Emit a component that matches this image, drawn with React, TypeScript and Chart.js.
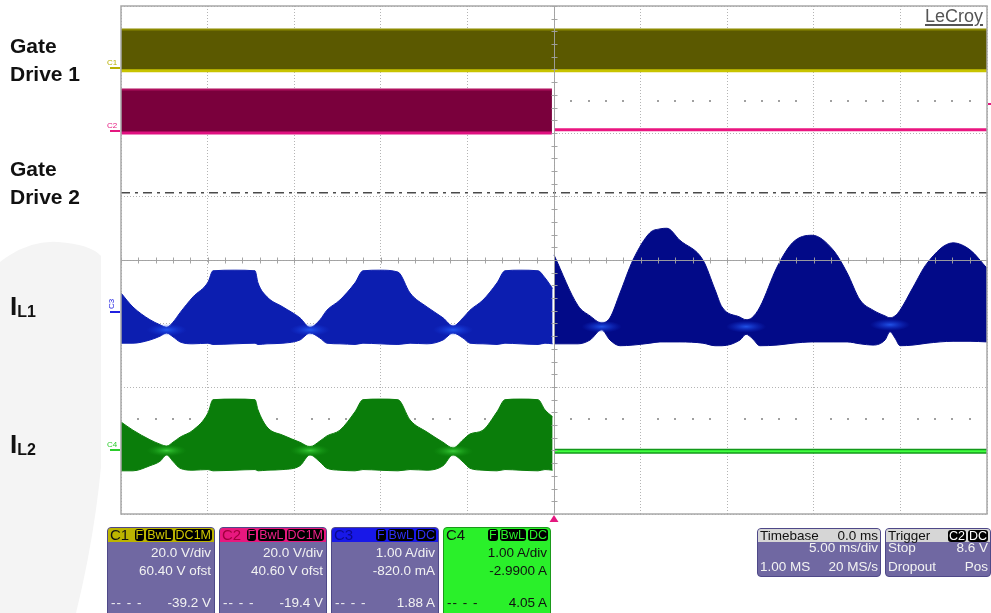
import React, { useEffect, useRef } from "react";
import { Chart, registerables } from "chart.js";
Chart.register(...registerables);

// ---------- axes (time in ms, vertical in divisions) ----------
const T_MIN = -25;
const T_MAX = 25;
const T_STEP = 5;
const V_MIN = -4;
const V_MAX = 4;

// ---------- C1 gate drive 1 (div) ----------
const C1_T = [-25, 25];
const C1_UP = [3.63, 3.63];
const C1_LO = [2.98, 2.98];

// ---------- C2 gate drive 2 (div) ----------
const C2_T = [-25, -0.12];
const C2_UP = [2.685, 2.685];
const C2_LO = [2.0, 2.0];
const C2_POST_T = [0, 25];
const C2_POST = [2.05, 2.05];

// ---------- before trigger (ms) ----------
const PRE_T = [
  -25.0, -24.31, -23.33, -22.75, -22.36, -22.0, -21.59, -20.84, -19.98, -19.69, -18.42, -17.26,
  -17.09, -16.57, -15.65, -14.67, -14.09, -13.51, -13.11, -12.36, -11.49, -11.03, -10.05, -9.01,
  -8.31, -7.33, -6.41, -5.83, -5.25, -4.85, -4.1, -3.29, -2.83, -1.96, -0.92, -0.52, -0.08,
];
const C3_PRE_UP = [
  -0.52, -0.74, -0.94, -1.02, -1.06, -0.98, -0.83, -0.58, -0.35, -0.17, -0.16, -0.17,
  -0.36, -0.58, -0.74, -0.91, -1.06, -0.94, -0.79, -0.63, -0.36, -0.17, -0.16, -0.19,
  -0.52, -0.74, -0.91, -1.04, -0.91, -0.79, -0.63, -0.36, -0.17, -0.16, -0.17, -0.28, -0.45,
];
const C3_PRE_LO = [
  -1.31, -1.31, -1.26, -1.2, -1.15, -1.21, -1.29, -1.32, -1.31, -1.33, -1.32, -1.31,
  -1.33, -1.32, -1.31, -1.26, -1.15, -1.23, -1.31, -1.32, -1.33, -1.31, -1.32, -1.33,
  -1.31, -1.32, -1.26, -1.15, -1.23, -1.31, -1.32, -1.33, -1.31, -1.32, -1.33, -1.31, -1.32,
];
const C4_PRE_UP = [
  -2.55, -2.68, -2.83, -2.9, -2.93, -2.87, -2.79, -2.68, -2.41, -2.2, -2.19, -2.2,
  -2.36, -2.63, -2.76, -2.87, -2.94, -2.85, -2.77, -2.68, -2.39, -2.2, -2.19, -2.2,
  -2.52, -2.71, -2.87, -2.96, -2.83, -2.74, -2.68, -2.39, -2.2, -2.19, -2.2, -2.36, -2.47,
];
const C4_PRE_LO = [
  -3.32, -3.32, -3.24, -3.17, -3.07, -3.17, -3.28, -3.31, -3.3, -3.32, -3.31, -3.3,
  -3.32, -3.31, -3.3, -3.24, -3.07, -3.18, -3.28, -3.31, -3.32, -3.3, -3.31, -3.32,
  -3.3, -3.31, -3.24, -3.07, -3.18, -3.28, -3.31, -3.32, -3.3, -3.31, -3.32, -3.3, -3.31,
];

// ---------- after trigger (ms) ----------
const POST_T = [
  0.0, 1.39, 2.08, 2.75, 3.23, 3.81, 4.56, 5.54, 6.12, 6.52, 7.27, 8.6, 9.3, 9.7, 10.74, 11.09,
  11.43, 11.89, 12.88, 13.8, 14.9, 16.11, 16.92, 17.67, 18.42, 19.11, 19.4, 19.69, 19.98, 20.73,
  21.54, 23.04, 24.02, 25.0,
];
const C3_POST_UP = [
  0.08, -0.72, -0.88, -0.99, -0.91, -0.52, 0.0, 0.43, 0.49, 0.5, 0.31, 0.0, -0.47, -0.74, -0.9,
  -0.94, -0.91, -0.74, -0.11, 0.28, 0.39, 0.16, -0.2, -0.63, -0.79, -0.88, -0.91, -0.88, -0.79,
  -0.43, -0.05, 0.27, 0.16, -0.13,
];
const C3_POST_LO = [
  -1.32, -1.32, -1.26, -1.1, -1.26, -1.35, -1.34, -1.31, -1.29, -1.29, -1.29, -1.31, -1.35, -1.35,
  -1.26, -1.17, -1.23, -1.35, -1.34, -1.31, -1.29, -1.29, -1.29, -1.32, -1.34, -1.26, -1.13, -1.23,
  -1.35, -1.34, -1.31, -1.28, -1.28, -1.29,
];
const C4_POST_T = [0, 25];
const C4_POST = [-3.01, -3.01];

// pinch points (bright spots)
const C3_PINCH_T = [-22.36, -14.09, -5.83, 2.75, 11.09, 19.4];
const C3_PINCH_V = [-1.1, -1.1, -1.1, -1.05, -1.05, -1.02];
const C4_PINCH_T = [-22.36, -14.09, -5.83];
const C4_PINCH_V = [-3.0, -3.0, -3.01];

// reference (dash-dot) level and half-division dot rows
const REF_T = [-25, 25];
const REF_V = [1.06, 1.06];
const HALF_ROWS = [2.5, -2.5];

// ---------- channel readouts ----------
const CH_NAMES = ["C1", "C2", "C3", "C4"];
const CH_SCALE = ["20.0 V/div", "20.0 V/div", "1.00 A/div", "1.00 A/div"];
const CH_OFFSET = ["60.40 V ofst", "40.60 V ofst", "-820.0 mA", "-2.9900 A"];
const CH_MEAS = ["-39.2 V", "-19.4 V", "1.88 A", "4.05 A"];
const CH_COUPLING = ["DC1M", "DC1M", "DC", "DC"];
const CH_MARKER_DIV = [60.4 / 20, 40.6 / 20, -0.82, -2.99];
const TRIG_LEVEL_DIV = (8.6 + 40.6) / 20;

const FONT = "'Liberation Sans', Arial, sans-serif";

const CH_COLORS = ["#b8b000", "#e4187f", "#2020e0", "#2ccc2c"];
const HEAD_BG = ["#bcb400", "#e8187f", "#1818e8", "transparent"];
const HEAD_TXT = ["#111", "#a0003c", "#0a0a90", "#111"];
const BADGE_TXT = ["#d0c800", "#f0208a", "#3030f8", "#2af22a"];

const pts = (ts: number[], vs: number[]) => ts.map((t, i) => ({ x: t, y: vs[i] }));

const line = (data: any, color: string, width: number, extra: any = {}) => ({
  data,
  borderColor: color,
  borderWidth: width,
  pointRadius: 0,
  tension: 0,
  fill: false,
  ...extra,
});

const smooth = { cubicInterpolationMode: "monotone" };

const scopePlugin = {
  id: "scope",
  beforeDatasetsDraw(chart: any) {
    const { ctx, scales } = chart;
    const x = scales.x;
    const y = scales.y;
    ctx.save();
    ctx.fillStyle = "#a0a0a0";
    HALF_ROWS.forEach((v) => {
      const py = Math.round(y.getPixelForValue(v));
      for (let t = T_MIN + 1; t < T_MAX; t += 1) {
        if (t % T_STEP === 0) continue;
        const px = Math.round(x.getPixelForValue(t));
        ctx.fillRect(px - 1, py - 1, 2, 2);
      }
    });
    ctx.restore();
  },
  afterDatasetsDraw(chart: any) {
    const { ctx, chartArea: a, scales } = chart;
    const x = scales.x;
    const y = scales.y;
    ctx.save();
    // pinch glows
    const glow = (ts: number[], vs: number[], inner: string, outer: string) => {
      ts.forEach((t, i) => {
        const px = x.getPixelForValue(t);
        const py = y.getPixelForValue(vs[i]);
        ctx.save();
        ctx.translate(px, py);
        ctx.scale(1, 0.3);
        const g = ctx.createRadialGradient(0, 0, 0, 0, 0, 20);
        g.addColorStop(0, inner);
        g.addColorStop(1, outer);
        ctx.fillStyle = g;
        ctx.beginPath();
        ctx.arc(0, 0, 20, 0, Math.PI * 2);
        ctx.fill();
        ctx.restore();
      });
    };
    glow(C3_PINCH_T, C3_PINCH_V, "rgba(40,100,255,0.8)", "rgba(20,60,230,0)");
    glow(C4_PINCH_T, C4_PINCH_V, "rgba(70,225,70,0.8)", "rgba(20,160,20,0)");

    // center cross with ticks
    const x0 = Math.round(x.getPixelForValue(0)) + 0.5;
    const y0 = Math.round(y.getPixelForValue(0)) + 0.5;
    ctx.strokeStyle = "rgba(160,160,160,0.95)";
    ctx.lineWidth = 1;
    ctx.beginPath();
    ctx.moveTo(x0, a.top);
    ctx.lineTo(x0, a.bottom);
    ctx.moveTo(a.left, y0);
    ctx.lineTo(a.right, y0);
    for (let v = V_MIN; v <= V_MAX + 1e-9; v += 0.2) {
      const py = Math.round(y.getPixelForValue(v)) + 0.5;
      ctx.moveTo(x0 - 3, py);
      ctx.lineTo(x0 + 3, py);
    }
    for (let t = T_MIN; t <= T_MAX; t += 1) {
      const px = Math.round(x.getPixelForValue(t)) + 0.5;
      ctx.moveTo(px, y0 - 3);
      ctx.lineTo(px, y0 + 3);
    }
    ctx.stroke();

    // frame
    ctx.strokeStyle = "#a8a8a8";
    ctx.lineWidth = 1.5;
    ctx.strokeRect(a.left, a.top, a.right - a.left, a.bottom - a.top);

    // channel ground markers
    CH_MARKER_DIV.forEach((v, i) => {
      const py = Math.round(y.getPixelForValue(v));
      ctx.fillStyle = CH_COLORS[i];
      ctx.fillRect(a.left - 11, py - 1, 10, 2);
      ctx.font = `8px ${FONT}`;
      if (i === 2) {
        ctx.save();
        ctx.translate(a.left - 7, py - 3);
        ctx.rotate(-Math.PI / 2);
        ctx.fillText(CH_NAMES[i], 0, 0);
        ctx.restore();
      } else {
        ctx.fillText(CH_NAMES[i], a.left - 14, py - 3);
      }
    });

    // trigger level marker (right)
    const ty = Math.round(y.getPixelForValue(TRIG_LEVEL_DIV));
    ctx.fillStyle = "#e4187f";
    ctx.fillRect(a.right + 1, ty - 1, 5, 2);

    // trigger position marker (bottom)
    const tx = x.getPixelForValue(0);
    ctx.beginPath();
    ctx.moveTo(tx, a.bottom + 1);
    ctx.lineTo(tx - 4.5, a.bottom + 8);
    ctx.lineTo(tx + 4.5, a.bottom + 8);
    ctx.closePath();
    ctx.fill();
    ctx.restore();
  },
};

function ScopeChart() {
  const ref = useRef<HTMLCanvasElement | null>(null);
  useEffect(() => {
    if (!ref.current) return;
    const datasets: any[] = [
      line(pts(C2_POST_T, C2_POST), "#ea1680", 3),
      line(pts(C4_POST_T, C4_POST), "#40ff40", 2),
      line(pts(C4_POST_T, C4_POST), "#12991a", 5),
      // C1 band
      line(pts(C1_T, C1_UP), "#8c8a00", 2),
      line(pts(C1_T, C1_LO), "#c8c400", 3, { fill: "-1", backgroundColor: "#5b5900" }),
      // C2 band
      line(pts(C2_T, C2_UP), "#b0105e", 2),
      line(pts(C2_T, C2_LO), "#e01080", 3, { fill: "-1", backgroundColor: "#7a003c" }),
      // C3 before trigger
      line(pts(PRE_T, C3_PRE_UP), "#0c1eb0", 1, smooth),
      line(pts(PRE_T, C3_PRE_LO), "#0c1eb0", 1, { ...smooth, fill: "-1", backgroundColor: "#0c1eb0" }),
      // C3 after trigger
      line(pts(POST_T, C3_POST_UP), "#020a88", 1, smooth),
      line(pts(POST_T, C3_POST_LO), "#020a88", 1, { ...smooth, fill: "-1", backgroundColor: "#020a88" }),
      // C4 before trigger
      line(pts(PRE_T, C4_PRE_UP), "#0a7d0a", 1, smooth),
      line(pts(PRE_T, C4_PRE_LO), "#0a7d0a", 1, { ...smooth, fill: "-1", backgroundColor: "#0a7d0a" }),
      // reference level
      line(pts(REF_T, REF_V), "#4a4a4a", 1.5, { borderDash: [9, 5, 3, 5] }),
    ];
    const chart = new Chart(ref.current, {
      type: "line",
      data: { datasets },
      options: {
        responsive: false,
        animation: false,
        events: [],
        parsing: false as any,
        layout: { padding: { left: 121, top: 6, right: 4, bottom: 99 } },
        plugins: { legend: { display: false }, tooltip: { enabled: false } },
        scales: {
          x: {
            type: "linear",
            min: T_MIN,
            max: T_MAX,
            ticks: { stepSize: T_STEP, display: false },
            grid: { color: "#b4b4b4", drawTicks: false, lineWidth: 1 },
            border: { display: false, dash: [1, 2] },
          },
          y: {
            type: "linear",
            min: V_MIN,
            max: V_MAX,
            ticks: { stepSize: 1, display: false },
            grid: { color: "#b4b4b4", drawTicks: false, lineWidth: 1 },
            border: { display: false, dash: [1, 2] },
          },
        },
      },
      plugins: [scopePlugin],
    });
    return () => chart.destroy();
  }, []);
  return (
    <canvas
      ref={ref}
      width={991}
      height={613}
      style={{ position: "absolute", left: 0, top: 0, width: 991, height: 613 }}
    />
  );
}

function Badge({ text, color }: { text: string; color: string }) {
  return (
    <span
      style={{
        display: "inline-block",
        background: "#000",
        color,
        borderRadius: 3,
        padding: "0 1px",
        marginLeft: 2,
        fontSize: 12.5,
        lineHeight: "12px",
        height: 12,
      }}
    >
      {text}
    </span>
  );
}

const BOX_BG = "#7068a2";
const BOX_BORDER = "#4e4888";
const TXT = "#f2f2f2";

function ChannelBox({ i, left }: { i: number; left: number }) {
  const green = i === 3;
  const txt = green ? "#111" : TXT;
  const row = (top: number, content: React.ReactNode, justify = "flex-end") => (
    <div
      style={{
        position: "absolute",
        left: 3,
        right: 3,
        top,
        display: "flex",
        justifyContent: justify,
        fontSize: 13.5,
        lineHeight: "15px",
        color: txt,
        whiteSpace: "nowrap",
      }}
    >
      {content}
    </div>
  );
  return (
    <div
      style={{
        position: "absolute",
        left,
        top: 527,
        width: 108,
        height: 92,
        boxSizing: "border-box",
        background: green ? "#2af02a" : BOX_BG,
        border: `1px solid ${green ? "#1a9a1a" : BOX_BORDER}`,
        borderRadius: 4,
        overflow: "hidden",
        fontFamily: FONT,
      }}
    >
      <div
        style={{
          position: "absolute",
          left: 0,
          right: 0,
          top: 0,
          height: 14,
          background: HEAD_BG[i],
          display: "flex",
          justifyContent: "space-between",
          alignItems: "center",
          padding: "0 2px",
        }}
      >
        <span style={{ fontSize: 15, lineHeight: "14px", color: HEAD_TXT[i] }}>{CH_NAMES[i]}</span>
        <span style={{ display: "flex" }}>
          <Badge text="F" color={BADGE_TXT[i]} />
          <Badge text="BwL" color={BADGE_TXT[i]} />
          <Badge text={CH_COUPLING[i]} color={BADGE_TXT[i]} />
        </span>
      </div>
      {row(17, <span>{CH_SCALE[i]}</span>)}
      {row(35, <span>{CH_OFFSET[i]}</span>)}
      {row(
        67,
        <>
          <span style={{ letterSpacing: 1 }}>-- - -</span>
          <span>{CH_MEAS[i]}</span>
        </>,
        "space-between"
      )}
    </div>
  );
}

function InfoBox({
  left,
  width,
  head,
  headRight,
  l1,
  r1,
  l2,
  r2,
}: {
  left: number;
  width: number;
  head: string;
  headRight: React.ReactNode;
  l1: string;
  r1: string;
  l2: string;
  r2: string;
}) {
  const row = (top: number, l: string, r: string) => (
    <div
      style={{
        position: "absolute",
        left: 2,
        right: 2,
        top,
        display: "flex",
        justifyContent: "space-between",
        fontSize: 13.5,
        lineHeight: "15px",
        color: TXT,
        whiteSpace: "nowrap",
      }}
    >
      <span>{l}</span>
      <span>{r}</span>
    </div>
  );
  return (
    <div
      style={{
        position: "absolute",
        left,
        top: 528,
        width,
        height: 49,
        boxSizing: "border-box",
        background: BOX_BG,
        border: `1px solid ${BOX_BORDER}`,
        borderRadius: 4,
        overflow: "hidden",
        fontFamily: FONT,
      }}
    >
      <div
        style={{
          position: "absolute",
          left: 0,
          right: 0,
          top: 0,
          height: 13,
          background: "#d6d6d6",
          color: "#111",
          display: "flex",
          justifyContent: "space-between",
          alignItems: "center",
          padding: "0 2px",
          fontSize: 13.5,
          lineHeight: "13px",
          whiteSpace: "nowrap",
        }}
      >
        <span>{head}</span>
        <span style={{ display: "flex" }}>{headRight}</span>
      </div>
      {row(11, l1, r1)}
      {row(30, l2, r2)}
    </div>
  );
}

const labelStyle: React.CSSProperties = {
  position: "absolute",
  left: 10,
  fontFamily: FONT,
  fontWeight: "bold",
  fontSize: 21,
  lineHeight: "28px",
  color: "#111",
  whiteSpace: "nowrap",
};

export default function App() {
  return (
    <div
      style={{
        position: "fixed",
        left: 0,
        top: 0,
        width: 991,
        height: 613,
        background: "#fff",
        overflow: "hidden",
      }}
    >
      <svg width={991} height={613} style={{ position: "absolute", left: 0, top: 0 }}>
        <path
          d="M0,262 Q28,240 58,242 Q90,244 101,256 L101,467 Q94,540 76,613 L0,613 Z"
          fill="#f4f4f4"
        />
      </svg>
      <ScopeChart />
      <div style={{ ...labelStyle, top: 32 }}>
        Gate
        <br />
        Drive 1
      </div>
      <div style={{ ...labelStyle, top: 155 }}>
        Gate
        <br />
        Drive 2
      </div>
      <div style={{ ...labelStyle, top: 291, fontSize: 26, lineHeight: "30px" }}>
        I<span style={{ fontSize: 16, verticalAlign: "-2px" }}>L1</span>
      </div>
      <div style={{ ...labelStyle, top: 429, fontSize: 26, lineHeight: "30px" }}>
        I<span style={{ fontSize: 16, verticalAlign: "-2px" }}>L2</span>
      </div>
      <div
        style={{
          position: "absolute",
          left: 925,
          top: 6,
          fontFamily: FONT,
          fontSize: 18,
          lineHeight: "20px",
          color: "#555",
          textDecoration: "underline",
          textDecorationThickness: "1.5px",
          textUnderlineOffset: "2px",
        }}
      >
        LeCroy
      </div>
      <ChannelBox i={0} left={107} />
      <ChannelBox i={1} left={219} />
      <ChannelBox i={2} left={331} />
      <ChannelBox i={3} left={443} />
      <InfoBox
        left={757}
        width={124}
        head="Timebase"
        headRight={<span>0.0 ms</span>}
        l1=""
        r1="5.00 ms/div"
        l2="1.00 MS"
        r2="20 MS/s"
      />
      <InfoBox
        left={885}
        width={106}
        head="Trigger"
        headRight={
          <>
            <Badge text="C2" color="#fff" />
            <Badge text="DC" color="#fff" />
          </>
        }
        l1="Stop"
        r1="8.6 V"
        l2="Dropout"
        r2="Pos"
      />
    </div>
  );
}
